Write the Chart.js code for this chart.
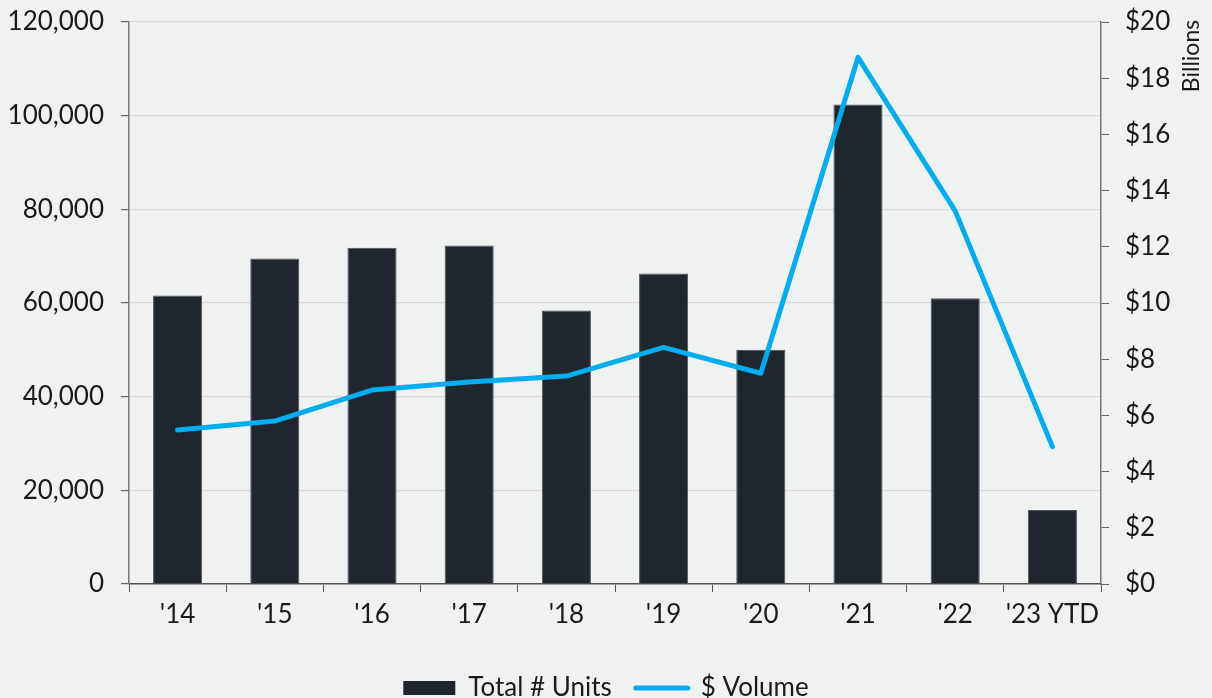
<!DOCTYPE html>
<html>
<head>
<meta charset="utf-8">
<script src="https://cdn.jsdelivr.net/npm/chart.js@4.4.1/dist/chart.umd.min.js"></script>
<style>
  html, body { margin: 0; padding: 0; background: #f0f2f1; }
  #wrap { width: 1212px; height: 698px; position: relative; }
</style>
</head>
<body>
<div id="wrap"><canvas id="c" width="1212" height="698"></canvas></div>
<script>
const categories = ["'14", "'15", "'16", "'17", "'18", "'19", "'20", "'21", "'22", "'23 YTD"];
const totalUnits = [61600, 69500, 71800, 72300, 58400, 66300, 50000, 102400, 61000, 15800];
const dollarVolume = [5.48, 5.80, 6.90, 7.19, 7.40, 8.42, 7.50, 18.74, 13.28, 4.89];
const leftTicks = [0, 20000, 40000, 60000, 80000, 100000, 120000];
const rightTicks = [0, 2, 4, 6, 8, 10, 12, 14, 16, 18, 20];
const seriesNames = ["Total # Units", "$ Volume"];
const rightAxisTitle = "Billions";

const FONT = "Lato, 'DejaVu Sans', sans-serif";
const TEXT = '#1a1a1a';
const FS = 26;
const LEGEND_PAD = 24;

const bgPlugin = {
  id: 'bg',
  beforeDraw(chart) {
    const ctx = chart.ctx;
    ctx.save();
    ctx.fillStyle = '#f0f2f1';
    ctx.fillRect(0, 0, chart.width, chart.height);
    ctx.restore();
  }
};
const legendShift = {
  id: 'legendShift',
  afterLayout(chart) {
    const lg = chart.legend;
    if (!lg) return;
    const center = lg.top + LEGEND_PAD + FS / 2;
    const d = 688 - center;
    lg.top += d; lg.bottom += d;
    if (lg.legendHitBoxes) lg.legendHitBoxes.forEach(h => { h.top += d; });
  }
};
const titlePlugin = {
  id: 'rtitle',
  afterDraw(chart) {
    const ctx = chart.ctx;
    ctx.save();
    ctx.translate(1192, 56);
    ctx.rotate(-Math.PI / 2);
    ctx.font = "23px " + FONT;
    ctx.fillStyle = TEXT;
    ctx.textAlign = 'center';
    ctx.textBaseline = 'middle';
    ctx.fillText(rightAxisTitle, 0, 0);
    ctx.restore();
  }
};

Chart.defaults.font.family = FONT;
Chart.defaults.font.size = FS;
Chart.defaults.color = TEXT;

new Chart(document.getElementById('c'), {
  data: {
    labels: categories,
    datasets: [
      {
        type: 'bar',
        label: seriesNames[0],
        data: totalUnits,
        backgroundColor: '#1f262e',
        borderColor: '#4c535b',
        borderWidth: 1,
        yAxisID: 'y',
        categoryPercentage: 1.0,
        barPercentage: 0.505,
        order: 2
      },
      {
        type: 'line',
        label: seriesNames[1],
        data: dollarVolume,
        borderColor: '#00aeef',
        backgroundColor: '#00aeef',
        borderWidth: 5,
        borderCapStyle: 'round',
        borderJoinStyle: 'round',
        pointRadius: 0,
        tension: 0,
        yAxisID: 'y1',
        order: 1
      }
    ]
  },
  options: {
    responsive: false,
    animation: false,
    layout: { padding: { top: 22, left: 0, right: 0, bottom: 0 } },
    plugins: {
      tooltip: { enabled: false },
      legend: {
        position: 'bottom',
        labels: {
          usePointStyle: true,
          pointStyleWidth: 52,
          boxWidth: 52,
          boxHeight: 14,
          padding: LEGEND_PAD,
          font: { size: FS },
          color: TEXT,
          generateLabels(chart) {
            const items = Chart.defaults.plugins.legend.labels.generateLabels(chart);
            items.forEach(it => {
              if (it.datasetIndex === 0) {
                it.pointStyle = 'rect';
                it.lineWidth = 0;
                it.fillStyle = '#1f262e';
              } else {
                it.pointStyle = 'line';
                it.lineWidth = 5;
                it.lineCap = 'round';
                it.strokeStyle = '#00aeef';
              }
            });
            return items.sort((a, b) => a.datasetIndex - b.datasetIndex);
          }
        }
      }
    },
    scales: {
      x: {
        offset: true,
        grid: { offset: true, drawOnChartArea: false, drawTicks: true, tickLength: 8, color: '#555', tickColor: '#555' },
        border: { color: '#555', width: 1.5 },
        ticks: { padding: 10, font: { size: FS, lineHeight: 1 }, color: TEXT, maxRotation: 0 },
        afterFit(s) { s.height = 698 - (LEGEND_PAD + FS + 10) - 584; }
      },
      y: {
        position: 'left',
        min: 0, max: 120000,
        afterBuildTicks(s) { s.ticks = leftTicks.map(v => ({ value: v })); },
        grid: { color: '#d9d9d9', tickColor: '#666', tickLength: 8, lineWidth: 1.2 },
        border: { color: '#777', width: 1.5 },
        ticks: { padding: 17, font: { size: FS, lineHeight: 0.3 }, color: TEXT, callback: v => v.toLocaleString('en-US') },
        afterFit(s) { s.width = 129; }
      },
      y1: {
        position: 'right',
        min: 0, max: 20,
        afterBuildTicks(s) { s.ticks = rightTicks.map(v => ({ value: v })); },
        grid: { drawOnChartArea: false, tickColor: '#666', tickLength: 8 },
        border: { color: '#777', width: 1.5 },
        ticks: { padding: 16, font: { size: FS, lineHeight: 0.3 }, color: TEXT, callback: v => '$' + v },
        afterFit(s) { s.width = 111; }
      }
    }
  },
  plugins: [bgPlugin, legendShift, titlePlugin]
});
</script>
</body>
</html>
